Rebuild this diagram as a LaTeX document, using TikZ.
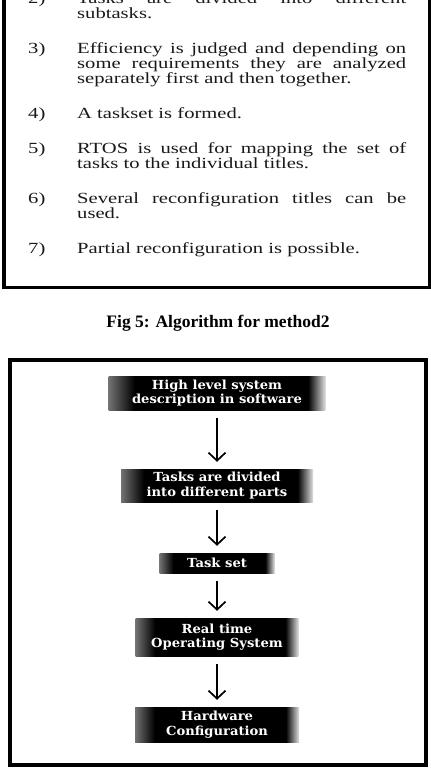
\documentclass[tikz,border=0pt]{standalone}
\usepackage{fontspec}
\setmainfont{Liberation Serif}
\newfontfamily\listfont{Liberation Serif}[FakeStretch=1.33]
\newfontfamily\capfont{Liberation Serif}
\newfontfamily\stagefont{DejaVu Serif}[FakeStretch=1.05]
\usetikzlibrary{arrows.meta}

% dark bar that fades out towards its left and right ends
\pgfdeclarehorizontalshading{stagefade}{100bp}{color(0bp)=(black!55); color(25bp)=(black!55); color(31bp)=(black); color(71bp)=(black); color(75bp)=(black!12); color(100bp)=(black!12)}

\tikzset{
  listnum/.style={anchor=base west, inner sep=0pt, text=black!90, font=\listfont\fontsize{15.5}{15}\selectfont},
  listitem/.style={listnum, text width=329pt, align=justify},
  stage/.style={shade, shading=stagefade, text=white, inner sep=0pt, align=center, font=\stagefont\bfseries\fontsize{12.5}{14.5}\selectfont},
  flowarrow/.style={-{Straight Barb[length=8pt,width=17pt]}, line width=1.7pt, shorten <=8pt, shorten >=7pt}
}

\begin{document}
\begin{tikzpicture}[x=1pt, y=-1pt]
        \useasboundingbox (0,0) rectangle (431,769);
        \clip (0,0) rectangle (431,769);

        % list of steps (upper frame)
        \draw[line width=3.5pt] (4,-20) rectangle (429.5,287.5);
        \node[listnum] (n2) at (28,3) {2)};
        \node[listitem] (t2) at (77,3) {Tasks are divided into different\linebreak subtasks.};
        \node[listnum] (n3) at (28,53) {3)};
        \node[listitem] (t3) at (77,53) {Efficiency is judged and depending on\linebreak some requirements they are analyzed\linebreak separately first and then together.};
        \node[listnum] (n4) at (28,118) {4)};
        \node[listitem] (t4) at (77,118) {A taskset is formed.};
        \node[listnum] (n5) at (28,153) {5)};
        \node[listitem] (t5) at (77,153) {RTOS is used for mapping the set of\linebreak tasks to the individual titles.};
        \node[listnum] (n6) at (28,203) {6)};
        \node[listitem] (t6) at (77,203) {Several reconfiguration titles can be\linebreak used.};
        \node[listnum] (n7) at (28,253) {7)};
        \node[listitem] (t7) at (77,253) {Partial reconfiguration is possible.};

        \node[font=\capfont\bfseries\fontsize{17.5}{20}\selectfont] (caption) at (218,323) {Fig 5: Algorithm for method2};

        % flow chart (lower frame)
        \draw[line width=4pt] (10,360) rectangle (426,765);
        \node[stage, minimum width=217pt, minimum height=34pt] (hls) at (217,393) {High level system\\description in software};
        \node[stage, minimum width=192pt, minimum height=33pt] (parts) at (217,485.5) {Tasks are divided\\into different parts};
        \node[stage, minimum width=115pt, minimum height=20pt] (tset) at (217,563) {Task set};
        \node[stage, minimum width=163pt, minimum height=38pt] (rtos) at (217,637) {Real time\\Operating System};
        \node[stage, minimum width=164pt, minimum height=35pt] (hwc) at (217,724.5) {Hardware\\Configuration};

        \draw[flowarrow] (hls) -- (parts);
        \draw[flowarrow] (parts) -- (tset);
        \draw[flowarrow] (tset) -- (rtos);
        \draw[flowarrow] (rtos) -- (hwc);
\end{tikzpicture}
\end{document}
